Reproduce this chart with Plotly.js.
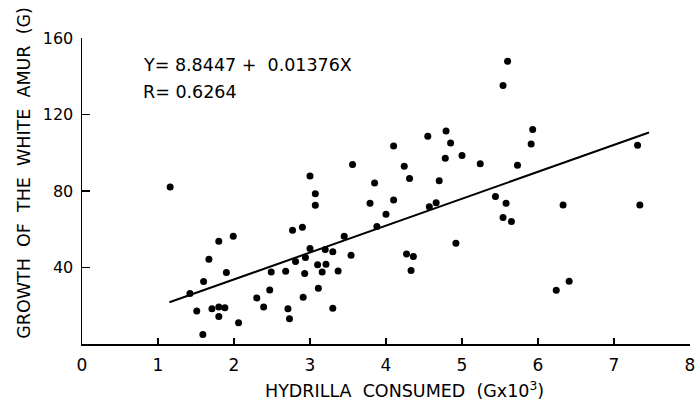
<!DOCTYPE html>
<html>
<head>
<meta charset="utf-8">
<script src="https://cdn.plot.ly/plotly-3.0.1.min.js"></script>
<style>html,body{margin:0;padding:0;background:#fff;}</style>
</head>
<body>
<div id="chart" style="width:696px;height:407px;"></div>
<script>
// Hydrilla consumed (G x 10^3)
var hydrillaX = [1.16,3.00,3.56,3.07,3.07,3.85,3.79,4.00,5.60,5.54,
  4.10,4.55,4.79,4.85,4.78,5.00,5.24,4.24,4.31,4.70,
  5.73,5.93,5.91,7.31,7.34,6.33,4.10,4.57,4.66,5.44,
  5.58,5.54,5.65,4.92,4.27,4.36,4.33,6.24,6.41,3.88,
  3.45,3.54,3.37,3.30,3.30,3.20,3.00,2.94,2.81,2.90,
  2.77,3.10,3.21,3.16,2.93,3.11,2.91,2.68,2.49,2.47,
  2.30,2.39,2.71,2.73,2.06,1.99,1.80,1.67,1.90,1.60,
  1.42,1.51,1.71,1.80,1.88,1.80,1.59];
// Growth of the white amur (G)
var growthY = [82.1,87.9,93.9,78.6,72.5,84.2,73.6,67.8,147.8,135.1,
  103.5,108.6,111.4,105.1,97.1,98.5,94.3,92.9,86.5,85.3,
  93.4,112.1,104.6,103.9,72.7,72.7,75.3,71.7,73.8,77.1,
  73.6,66.2,64.0,52.7,47.1,45.7,38.4,28.1,32.8,61.5,
  56.3,46.4,38.2,18.7,48.3,49.4,49.9,45.2,43.1,61.0,
  59.5,41.4,41.7,37.7,36.8,29.2,24.5,38.1,37.7,28.3,
  24.1,19.4,18.4,13.2,11.1,56.3,53.7,44.3,37.4,32.7,
  26.4,17.3,18.4,19.4,18.9,14.4,5.0];
// Fitted regression line end points
var fitX = [1.15, 7.46];
var fitY = [21.8, 110.6];
var xTicks = [0,1,2,3,4,5,6,7,8];
var yTicks = [40,80,120,160];
var equationText = "Y= 8.8447 +  0.01376X";
var rText = "R= 0.6264";
var xTitle = "HYDRILLA\u00a0\u00a0CONSUMED\u00a0\u00a0(Gx10<sup>3</sup>)";
var yTitle = "GROWTH\u00a0\u00a0OF\u00a0\u00a0THE\u00a0\u00a0WHITE\u00a0\u00a0AMUR\u00a0\u00a0(G)";

var L = 82, R = 690, T = 38, B = 344.5, W = 696, H = 407;
function px(x){ return (x - L) / (R - L); }
function py(y){ return (B - y) / (B - T); }

var font = "DejaVu Sans, Arial, sans-serif";

var data = [
  {x: fitX, y: fitY, mode: "lines", type: "scatter",
   line: {color: "#000", width: 2}, hoverinfo: "skip", showlegend: false},
  {x: hydrillaX, y: growthY, mode: "markers", type: "scatter",
   marker: {color: "#000", size: 7}, showlegend: false}
];

var layout = {
  width: W, height: H,
  margin: {l: L, r: W - R, t: T, b: H - B},
  paper_bgcolor: "#fff", plot_bgcolor: "#fff",
  font: {family: font, color: "#000", size: 15},
  showlegend: false,
  xaxis: {range: [0, 8], tickvals: xTicks, ticktext: xTicks.map(String),
    ticks: "inside", ticklen: 6, tickwidth: 1.2, tickcolor: "#000",
    showline: true, linecolor: "#000", linewidth: 1.5,
    showgrid: false, zeroline: false, tickfont: {size: 17}, ticklabelstandoff: 5},
  yaxis: {range: [0, 160], tickvals: yTicks, ticktext: yTicks.map(String),
    ticks: "inside", ticklen: 8, tickwidth: 1.2, tickcolor: "#000",
    showline: true, linecolor: "#000", linewidth: 1.5,
    showgrid: false, zeroline: false, tickfont: {size: 16}, ticklabelstandoff: 4},
  annotations: [
    {text: equationText, xref: "paper", yref: "paper", x: px(141), y: py(65),
     xanchor: "left", yanchor: "middle", showarrow: false, font: {size: 17.5}},
    {text: rText, xref: "paper", yref: "paper", x: px(141), y: py(92),
     xanchor: "left", yanchor: "middle", showarrow: false, font: {size: 17.5}},
    {text: xTitle, xref: "paper", yref: "paper", x: px(404), y: py(391),
     xanchor: "center", yanchor: "middle", showarrow: false, font: {size: 17.5}},
    {text: yTitle, xref: "paper", yref: "paper", x: px(24), y: py(173),
     xanchor: "center", yanchor: "middle", showarrow: false, textangle: -90,
     font: {size: 17.5}}
  ]
};

Plotly.newPlot("chart", data, layout, {displayModeBar: false, staticPlot: true});
</script>
</body>
</html>
